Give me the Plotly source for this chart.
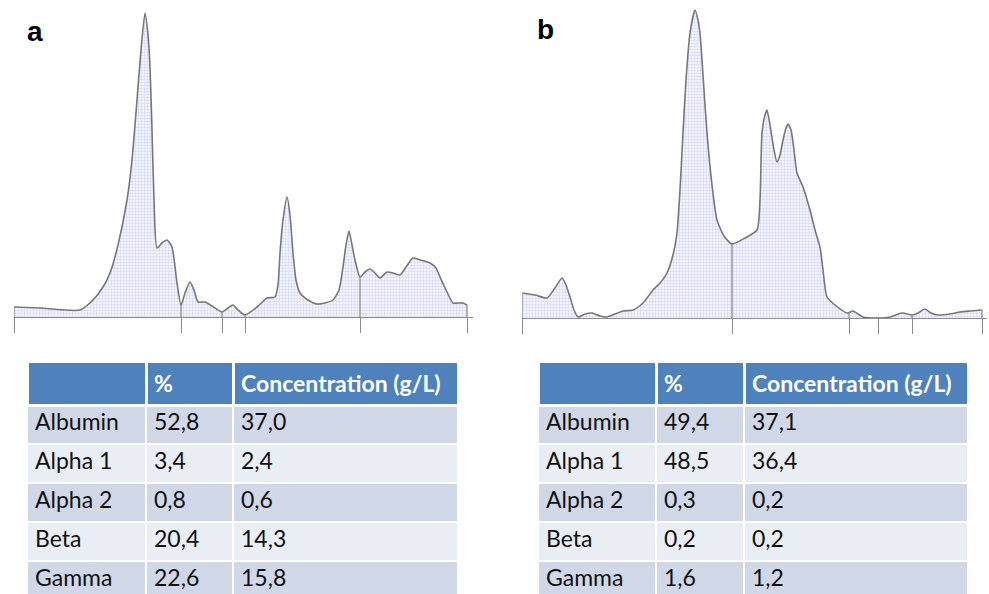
import numpy as np
import plotly.graph_objects as go

# ---------------- data ----------------
# Panel a densitometry trace (arbitrary migration units / arbitrary density)
xa = [0, 26, 66, 79, 89, 96, 104, 113, 118, 123,
      127, 131, 134, 136, 138, 140, 143, 148, 153, 158,
      163, 167, 171, 176, 180, 184, 191, 198, 208, 214,
      219, 224, 231, 243, 253, 261, 264, 266, 269, 273,
      276, 279, 282, 286, 294, 303, 311, 319, 325, 329,
      332, 335, 338, 341, 346, 351, 356, 361, 366, 373,
      379, 386, 392, 399, 406, 416, 422, 426, 433, 439,
      444, 449, 453]
ya = [10, 9, 7, 17, 30, 44, 72, 117, 157, 217,
      267, 304, 282, 250, 187, 117, 69, 74, 77, 70,
      34, 12, 24, 35, 27, 15, 15, 11, 5, 9,
      12, 7, 2, 10, 19, 20, 32, 64, 97, 120,
      102, 64, 37, 24, 17, 13, 14, 17, 27, 50,
      72, 86, 72, 57, 40, 45, 48, 44, 39, 45,
      44, 42, 50, 59, 57, 54, 49, 40, 25, 14,
      14, 14, 12]
bounds_a = [0, 167, 208, 231, 346, 453]

# Panel b densitometry trace
xb = [0, 13, 25, 33, 40, 44, 48, 52, 56, 63,
      70, 78, 85, 93, 101, 111, 121, 131, 138, 145,
      151, 155, 158, 161, 164, 168, 173, 176, 178, 181,
      185, 190, 195, 202, 210, 223, 235, 238, 240, 243,
      245, 248, 252, 255, 258, 261, 264, 266, 269, 272,
      275, 281, 288, 293, 298, 301, 305, 313, 325, 331,
      336, 341, 355, 368, 380, 390, 396, 403, 409, 416,
      428, 438, 448, 460]
yb = [25, 23, 20, 30, 40, 33, 21, 8, 1, 4,
      5, 2, 1, 4, 7, 8, 15, 28, 35, 45,
      63, 85, 128, 185, 238, 285, 308, 298, 285, 243,
      185, 133, 98, 82, 74, 80, 88, 118, 185, 203,
      208, 193, 168, 156, 163, 178, 190, 194, 188, 168,
      145, 131, 108, 88, 71, 48, 21, 13, 5, 7,
      4, 1, 0, 1, 5, 3, 5, 9, 5, 3,
      4, 6, 7, 8]
bounds_b = [0, 210, 327, 356, 390, 460]

# Tables
fractions = ["Albumin", "Alpha 1", "Alpha 2", "Beta", "Gamma"]
header = ["", "%", "Concentration (g/L)"]
pct_a = ["52,8", "3,4", "0,8", "20,4", "22,6"]
conc_a = ["37,0", "2,4", "0,6", "14,3", "15,8"]
pct_b = ["49,4", "48,5", "0,3", "0,2", "1,6"]
conc_b = ["37,1", "36,4", "0,2", "0,2", "1,2"]

# ---------------- styling ----------------
W, H = 989, 594
LINE = "#777777"
AXIS = "#8c8c8c"
FONT = "Lato, 'Open Sans', sans-serif"
HEAD = "#4F81BD"
ROW1 = "#D0D8E8"
ROW2 = "#E9EDF4"


def px(v):
    return v / W


def py(v):
    return 1 - v / H


fig = go.Figure()

fill_pat = dict(shape="+", size=3, solidity=0.3, fgcolor="#a9a9ee", bgcolor="#f4f4ff")


def add_panel(x, y, bounds, xa_name, ya_name):
    fig.add_trace(go.Scatter(
        x=x, y=y, mode="lines", fill="tozeroy",
        line=dict(color=LINE, width=1.6, shape="spline", smoothing=0.6),
        fillcolor="rgba(225,225,250,0.6)", fillpattern=fill_pat,
        xaxis=xa_name, yaxis=ya_name, showlegend=False, hoverinfo="skip"))
    # dividers rising from the baseline to the curve
    dx, dy = [], []
    for b in bounds:
        dx += [b, b, None]
        dy += [0, float(np.interp(b, x, y)), None]
    fig.add_trace(go.Scatter(
        x=dx, y=dy, mode="lines", line=dict(color=AXIS, width=1.3),
        xaxis=xa_name, yaxis=ya_name, showlegend=False, hoverinfo="skip"))


add_panel(xa, ya, bounds_a, "x", "y")
add_panel(xb, yb, bounds_b, "x2", "y2")

axis_common = dict(showgrid=False, zeroline=False)
fig.update_layout(
    width=W, height=H,
    margin=dict(l=0, r=0, t=0, b=0),
    paper_bgcolor="white", plot_bgcolor="rgba(0,0,0,0)",
    xaxis=dict(domain=[px(14), px(473)], range=[0, 459], showline=True,
               linecolor=AXIS, linewidth=1.3, ticks="outside", ticklen=15,
               tickwidth=1.3, tickcolor=AXIS, tickvals=bounds_a,
               showticklabels=False, anchor="y", **axis_common),
    yaxis=dict(domain=[py(317), 1], range=[0, 317], visible=False,
               anchor="x", **axis_common),
    xaxis2=dict(domain=[px(522), px(987)], range=[0, 465], showline=True,
                linecolor=AXIS, linewidth=1.3, ticks="outside", ticklen=15,
                tickwidth=1.3, tickcolor=AXIS, tickvals=bounds_b,
                showticklabels=False, anchor="y2", **axis_common),
    yaxis2=dict(domain=[py(318), 1], range=[0, 318], visible=False,
                anchor="x2", **axis_common),
)

# panel letters
for letter, lx, ly in [("a", 35, 31), ("b", 545, 29)]:
    fig.add_annotation(text="<b>%s</b>" % letter, x=px(lx), y=py(ly),
                       xref="paper", yref="paper", showarrow=False,
                       xanchor="center", yanchor="middle",
                       font=dict(family="Arial, Liberation Sans, sans-serif",
                                 size=28, color="black"))


def add_table(pcts, concs, x0, x1, widths):
    fills = [[ROW1, ROW2, ROW1, ROW2, ROW1]] * 3
    fig.add_trace(go.Table(
        domain=dict(x=[px(x0), px(x1)], y=[0, py(361)]),
        columnwidth=widths,
        header=dict(values=["<b>%s</b>" % h if h else "" for h in header],
                    fill_color=HEAD, align="left", height=41,
                    line=dict(color="white", width=3),
                    font=dict(family=FONT, size=23, color="white")),
        cells=dict(values=[fractions, pcts, concs], fill_color=fills,
                   align="left", height=39,
                   line=dict(color="white", width=2),
                   font=dict(family=FONT, size=23, color="#111111"))))


add_table(pct_a, conc_a, 27, 458, [119, 87, 225])
add_table(pct_b, conc_b, 538, 968, [118, 88, 224])

fig.write_html("out.html", config={"displayModeBar": False},
               post_script="document.body.style.margin='0px';")
